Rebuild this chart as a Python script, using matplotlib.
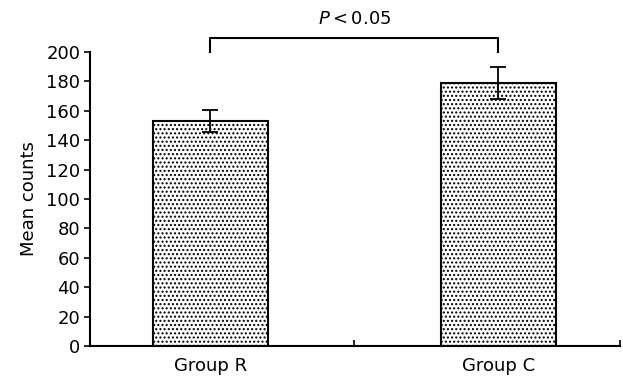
import numpy as np
import matplotlib
matplotlib.use("Agg")
import matplotlib.pyplot as plt

groups = ["Group R", "Group C"]
means = [153, 179]
errors = [7.5, 11]
y_ticks = list(range(0, 201, 20))
p_label = "$\\mathit{P}<\\mathrm{0.05}$"

plt.rcParams["font.family"] = ["DejaVu Sans"]
plt.rcParams["mathtext.fontset"] = "dejavusans"
plt.rcParams["hatch.linewidth"] = 1.0

fig = plt.figure(figsize=(6.23, 3.79), dpi=100)
ax = fig.add_axes([90 / 623, 1 - 346 / 379, 530 / 623, 294 / 379])

x = np.arange(len(groups))
ax.bar(x, means, width=0.4, color="white", edgecolor="black", linewidth=1.5, hatch="....")
ax.errorbar(x, means, yerr=errors, fmt="none", ecolor="black", elinewidth=1.3,
            capsize=5.5, capthick=1.3)

ax.set_xlim(-0.418, 1.422)
ax.set_ylim(0, 200)
ax.set_yticks(y_ticks)
ax.set_xticks(x)
ax.set_xticklabels(groups, fontsize=13)
ax.tick_params(axis="x", length=0, pad=8)
ax.set_xticks([0.5, 1.422], minor=True)
ax.tick_params(axis="x", which="minor", direction="in", length=4, width=1.2)
ax.tick_params(axis="y", direction="out", length=4, width=1.2, labelsize=13, pad=3)
ax.set_ylabel("Mean counts", fontsize=13, labelpad=6)

for side in ["top", "right"]:
    ax.spines[side].set_visible(False)
for side in ["left", "bottom"]:
    ax.spines[side].set_linewidth(1.5)

# significance bracket
ax.plot([0, 0, 1, 1], [200, 209.5, 209.5, 200], color="black", linewidth=1.5, clip_on=False)
ax.text(0.5, 216, p_label, ha="center", va="bottom", fontsize=13)

fig.savefig("out.png", dpi=100)
